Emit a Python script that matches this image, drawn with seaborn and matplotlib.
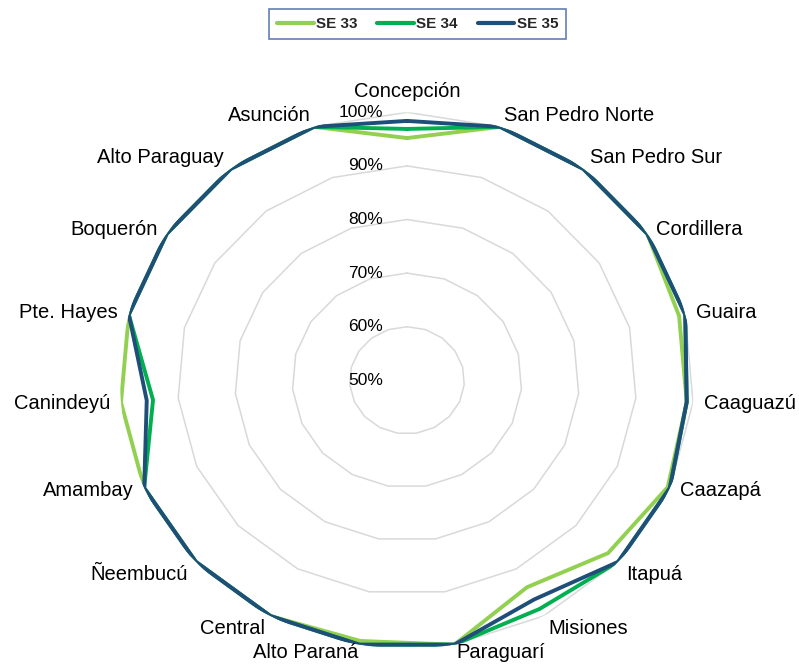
import numpy as np
import pandas as pd
import matplotlib
matplotlib.use("Agg")
import matplotlib.pyplot as plt
import seaborn as sns

# data (percent)
categories = ['Concepción', 'San Pedro Norte', 'San Pedro Sur', 'Cordillera', 'Guaira',
              'Caaguazú', 'Caazapá', 'Itapuá', 'Misiones', 'Paraguarí', 'Alto Paraná',
              'Central', 'Ñeembucú', 'Amambay', 'Canindeyú', 'Pte. Hayes', 'Boquerón',
              'Alto Paraguay', 'Asunción']
series_names = ['SE 33', 'SE 34', 'SE 35']
se33 = [95.2, 100, 100, 100, 98.9, 98.9, 99.6, 97.6, 93.9, 100, 99.3, 100, 100, 100, 100, 100, 100, 100, 100]
se34 = [96.9, 100, 100, 100, 100, 98.9, 100, 100, 98.5, 100, 100, 100, 100, 100, 94.4, 100, 100, 100, 100]
se35 = [98.4, 100, 100, 100, 100, 98.9, 100, 100, 96.5, 100, 100, 100, 100, 100, 95.5, 100, 100, 100, 100]
ring_levels = [60, 70, 80, 90, 100]
tick_labels = ['50%', '60%', '70%', '80%', '90%', '100%']
colors = ['#92D050', '#00B050', '#1F4E79']

n = len(categories)
theta = np.linspace(0, 2 * np.pi, n, endpoint=False)
theta_closed = np.append(theta, 2 * np.pi)

rows = []
for name, vals in zip(series_names, [se33, se34, se35]):
    vals_closed = list(vals) + [vals[0]]
    for t, v in zip(theta_closed, vals_closed):
        rows.append({'theta': t, 'value': v, 'series': name})
df = pd.DataFrame(rows)

sns.set_theme(style='white')
plt.rcParams['font.family'] = ['Liberation Sans', 'DejaVu Sans']

fig = plt.figure(figsize=(7.99, 6.67), dpi=100)
ax = fig.add_axes([0.1502, 0.028, 0.7184, 0.8036], projection='polar')
ax.set_aspect('auto')
ax.set_theta_zero_location('N')
ax.set_theta_direction(-1)

# polygonal gridlines like Excel
for lvl in ring_levels:
    ax.plot(theta_closed, [lvl] * (n + 1), color='#D9D9D9', lw=1.1, zorder=1)

sns.lineplot(data=df, x='theta', y='value', hue='series', palette=colors,
             sort=False, linewidth=2.8, ax=ax, zorder=3)

ax.set_ylim(50, 100)
ax.grid(False)
ax.set_xticks([])
ax.set_yticks([])
ax.set_xlabel('')
ax.set_ylabel('')
ax.spines['polar'].set_visible(False)

# category labels
for t, cat in zip(theta, categories):
    s, c = np.sin(t), np.cos(t)
    ha = 'left' if s > 0.05 else ('right' if s < -0.05 else 'center')
    if abs(s) < 0.05:
        va, dy = 'bottom', 11
    elif c > 0.6:
        va, dy = 'bottom', 2
    elif c < -0.95:
        va, dy = 'top', 2
    elif c < -0.6:
        va, dy = 'top', -3
    else:
        va, dy = 'center', 7 * c
    ax.annotate(cat, xy=(t, 100), xytext=(s * 11, dy), textcoords='offset pixels',
                ha=ha, va=va, fontsize=14.5, color='black', annotation_clip=False)

# radial tick labels
for v, lab in zip([50] + ring_levels, tick_labels):
    ax.annotate(lab, xy=(0, v), xytext=(-24, 0), textcoords='offset pixels',
                ha='right', va='center', fontsize=12.5, color='black', zorder=5)

handles, labels = ax.get_legend_handles_labels()
ax.get_legend().remove()
leg = fig.legend(handles, labels, loc='center', bbox_to_anchor=(0.5225, 0.964), ncol=3,
                 frameon=True, fancybox=False, borderpad=0.55, handlelength=2.4,
                 handletextpad=0.15, columnspacing=1.3,
                 prop={'weight': 'bold', 'size': 11})
leg.get_frame().set_edgecolor('#3B5FA0')
leg.get_frame().set_linewidth(1.2)
for line in leg.get_lines():
    line.set_linewidth(3)

fig.savefig('out.png', dpi=100)
